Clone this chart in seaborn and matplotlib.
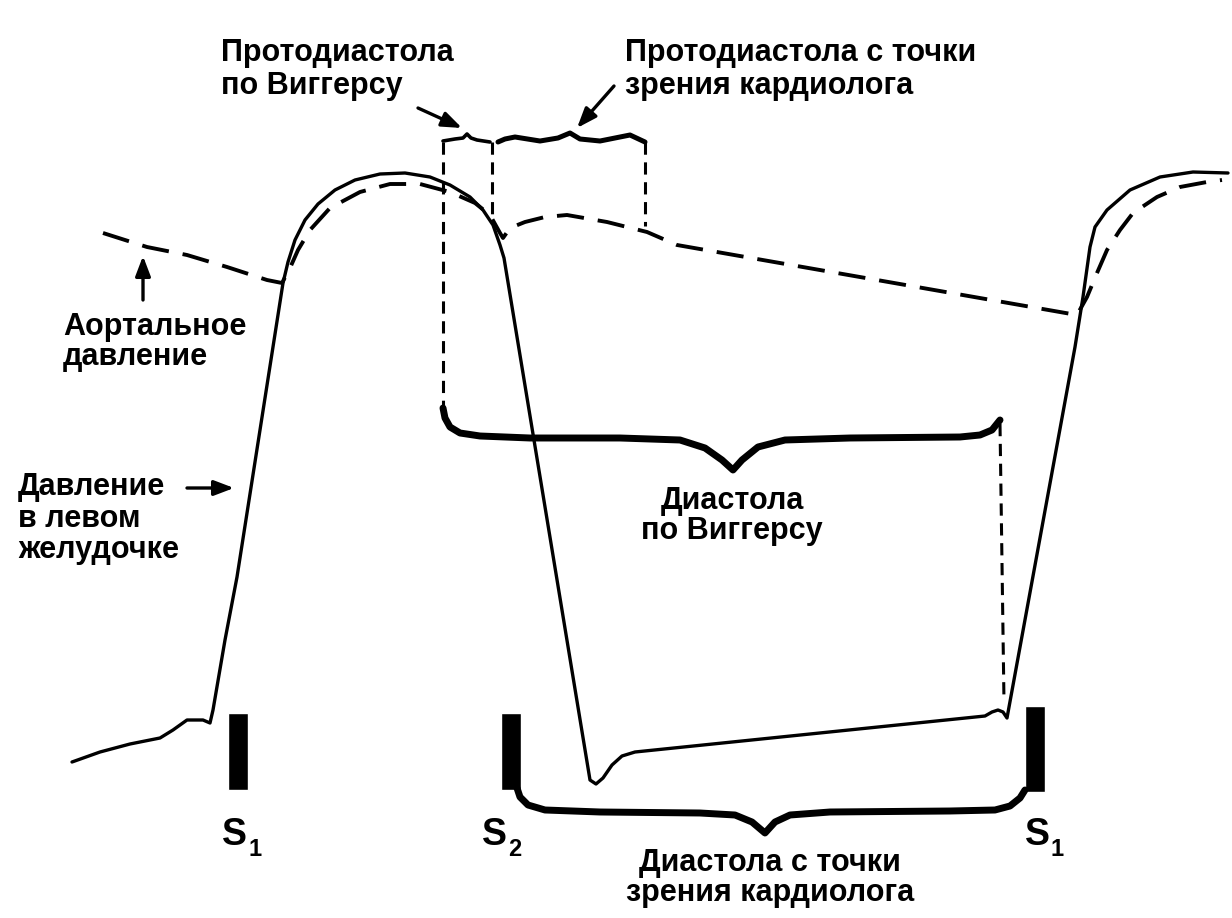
import numpy as np
import pandas as pd
import matplotlib
matplotlib.use("Agg")
import matplotlib.pyplot as plt
import seaborn as sns

# ---------------- data (diagram coordinates, pixel-like units, y downwards) -------------
lv_x = [72, 100, 130, 160, 173, 187, 203, 210, 213, 225, 237, 260, 283, 288, 295, 305,
        318, 335, 355, 380, 405, 430, 450, 470, 483, 493, 500, 504, 590, 596, 603, 612,
        622, 635, 985, 992, 998, 1003, 1007, 1075, 1083, 1090, 1095, 1107, 1130, 1160,
        1193, 1228]
lv_y = [762, 752, 744, 738, 730, 720, 720, 723, 710, 640, 577, 430, 283, 262, 240, 220,
        204, 190, 180, 174, 173, 177, 185, 197, 210, 225, 245, 258, 780, 784, 778, 765,
        756, 752, 716, 712, 710, 712, 718, 347, 297, 247, 227, 210, 190, 177, 172, 173]

ao_x = [103, 147, 187, 227, 267, 282, 290, 298, 310, 330, 360, 390, 420, 450, 475, 490,
        500, 503, 510, 525, 545, 567, 607, 647, 677, 1077, 1087, 1097, 1107, 1120, 1133,
        1157, 1180, 1207, 1222]
ao_y = [233, 247, 255, 267, 280, 283, 268, 250, 230, 208, 192, 184, 184, 192, 203, 215,
        233, 238, 228, 222, 217, 215, 222, 232, 245, 315, 297, 273, 250, 230, 213, 197,
        187, 182, 180]

# heart sound markers
s_names = ["1", "2", "1"]
s_x = [238, 511, 1035]
s_top = [713, 713, 706]
s_bottom = [790, 790, 792]
s_label_x = [222, 482, 1025]

# braces
brace_top_small_x = [443, 455, 463, 467, 471, 477, 490]
brace_top_small_y = [141, 139, 138, 134, 138, 140, 142]
brace_top_big_x = [498, 505, 515, 540, 558, 570, 580, 600, 630, 645]
brace_top_big_y = [142, 139, 137, 141, 138, 133, 139, 141, 135, 142]
brace_mid_x = [443, 445, 450, 460, 480, 530, 620, 680, 705, 722, 733, 742, 758, 785,
               850, 960, 980, 992, 1000]
brace_mid_y = [408, 418, 427, 433, 436, 438, 438, 440, 448, 460, 470, 460, 447, 440,
               438, 437, 435, 430, 420]
brace_bot_x = [517, 520, 528, 545, 600, 700, 735, 752, 765, 775, 790, 830, 950, 995,
               1010, 1020, 1025]
brace_bot_y = [788, 797, 805, 810, 812, 813, 815, 822, 833, 822, 815, 812, 811, 810,
               806, 798, 790]

# dashed guide lines (x0, y0, x1, y1)
guide_x0 = [443, 492, 645, 1000]
guide_y0 = [142, 142, 142, 424]
guide_x1 = [443, 492, 645, 1004]
guide_y1 = [408, 222, 226, 702]

labels = ["Протодиастола\nпо Виггерсу",
          "Протодиастола с точки\nзрения кардиолога",
          "Аортальное\nдавление",
          "Давление\nв левом\nжелудочке",
          "Диастола\nпо Виггерсу",
          "Диастола с точки\nзрения кардиолога"]
label_x = [221, 625, 63, 18, 732, 770]
label_y = [38, 38, 312, 472, 486, 848]
label_ha = ["left", "left", "left", "left", "center", "center"]
label_ls = [1.12, 1.12, 1.0, 1.07, 1.02, 1.0]

arrow_tail = [(418, 108), (614, 86), (143, 300), (187, 488)]
arrow_head = [(462, 128), (577, 128), (143, 256), (234, 488)]

# ---------------- drawing -------------
sns.set_theme(style="white")
plt.rcParams["font.family"] = ["Liberation Sans", "DejaVu Sans"]
plt.rcParams["text.color"] = "black"

fig = plt.figure(figsize=(12.32, 9.18), dpi=100)
ax = fig.add_axes([0, 0, 1, 1])

lv = pd.DataFrame({"x": lv_x, "y": lv_y})
ao = pd.DataFrame({"x": ao_x, "y": ao_y})
sns.lineplot(data=lv, x="x", y="y", sort=False, estimator=None, ax=ax,
             color="black", linewidth=2.4, legend=False)
sns.lineplot(data=ao, x="x", y="y", sort=False, estimator=None, ax=ax,
             color="black", linewidth=2.8, linestyle=(0, (7, 3.6)), legend=False)

for bx, by, lw in [(brace_top_small_x, brace_top_small_y, 2.6),
                   (brace_top_big_x, brace_top_big_y, 3.6),
                   (brace_mid_x, brace_mid_y, 5.0),
                   (brace_bot_x, brace_bot_y, 5.0)]:
    sns.lineplot(x=bx, y=by, sort=False, estimator=None, ax=ax, color="black",
                 linewidth=lw, legend=False)

for x0, y0, x1, y1 in zip(guide_x0, guide_y0, guide_x1, guide_y1):
    ax.plot([x0, x1], [y0, y1], color="black", linewidth=2.2, linestyle=(0, (4, 2.5)))

heights = [b - t for t, b in zip(s_top, s_bottom)]
ax.bar(s_x, heights, bottom=s_top, width=20, color="black")
for name, lx in zip(s_names, s_label_x):
    ax.text(lx, 817, "S", fontsize=27, fontweight="bold", color="black",
            ha="left", va="top")
    ax.text(lx + 26, 838, name, fontsize=17, fontweight="bold", color="black",
            ha="left", va="top")

for t, lx, ly, ha, ls in zip(labels, label_x, label_y, label_ha, label_ls):
    ax.text(lx, ly, t, fontsize=22, fontweight="bold", color="black", ha=ha, va="top",
            linespacing=ls, multialignment="center" if ha == "center" else "left")

for (tx, ty), (hx, hy) in zip(arrow_tail, arrow_head):
    ax.annotate("", xy=(hx, hy), xytext=(tx, ty),
                arrowprops=dict(arrowstyle="-|>,head_length=1.0,head_width=0.38",
                                color="black", lw=2.4, shrinkA=0, shrinkB=0))

ax.set_xlim(0, 1232)
ax.set_ylim(918, 0)
ax.axis("off")

fig.savefig("out.png", dpi=100, facecolor="white")
